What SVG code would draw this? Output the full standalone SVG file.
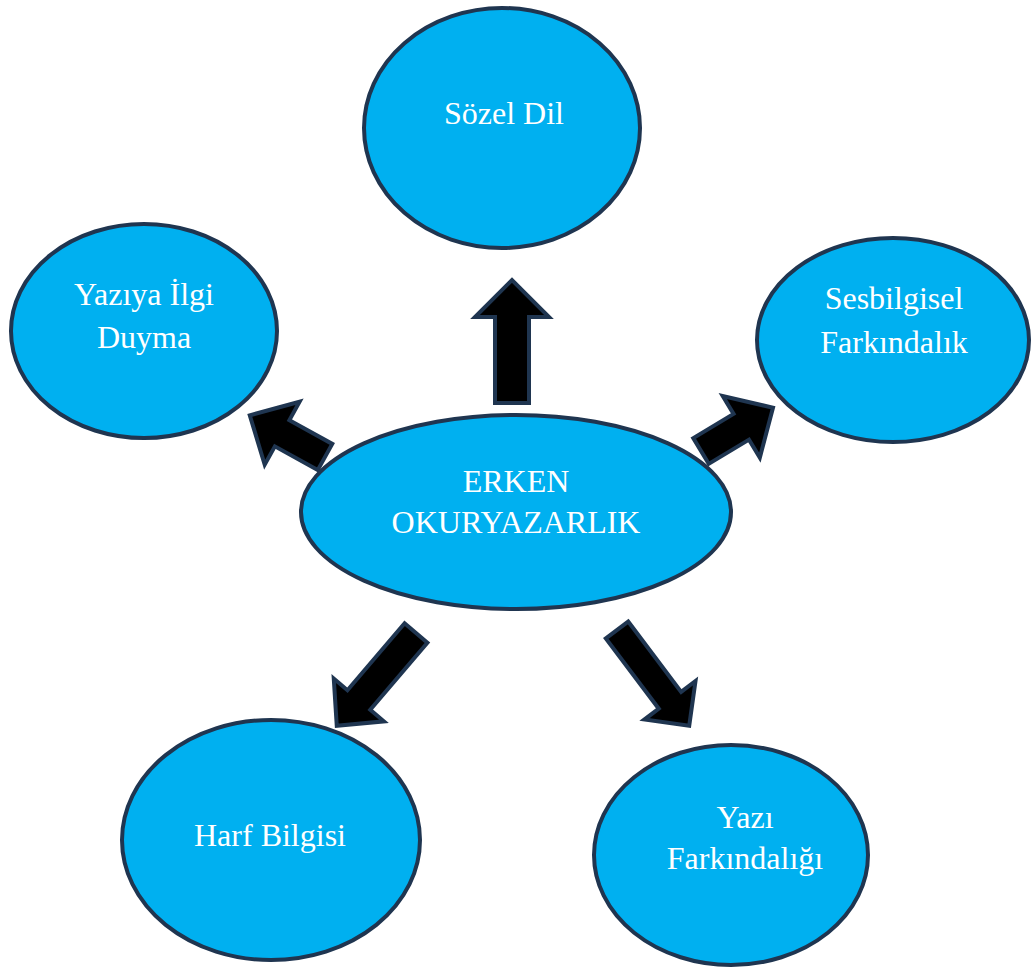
<svg xmlns="http://www.w3.org/2000/svg" width="1032" height="968" viewBox="0 0 1032 968">
<style>
.node{fill:#00b0f0;stroke:#1f3550;stroke-width:4}
.arrow{fill:#000;stroke:#1f3550;stroke-width:4;stroke-linejoin:miter}
.lbl{font-family:"Liberation Serif","Times New Roman",serif;font-size:32px;fill:#fff;text-anchor:middle}
</style>
<rect width="1032" height="968" fill="#fff"/>
<g id="connectors">
<polygon class="arrow" transform="translate(512,403) rotate(-90)" points="0,-17 86,-17 86,-37 123,0 86,37 86,17 0,17"/>
<polygon class="arrow" transform="translate(325,457) rotate(209)" points="0,-15 49,-15 49,-36 86,0 49,36 49,15 0,15"/>
<polygon class="arrow" transform="translate(701,451) rotate(-31)" points="0,-15 47,-15 47,-36 84,0 47,36 47,15 0,15"/>
<polygon class="arrow" transform="translate(416,633) rotate(130.5)" points="0,-15 88,-15 88,-33 122,0 88,33 88,15 0,15"/>
<polygon class="arrow" transform="translate(617,630) rotate(53)" points="0,-14 88,-14 88,-32 120,0 88,32 88,14 0,14"/>
</g>
<g id="center">
<ellipse class="node" cx="516" cy="512" rx="215" ry="97"/>
<text class="lbl" x="516" y="492">ERKEN</text>
<text class="lbl" x="516" y="533">OKURYAZARLIK</text>
</g>
<g id="sozel-dil">
<ellipse class="node" cx="502" cy="128" rx="138" ry="120"/>
<text class="lbl" x="504" y="124">Sözel Dil</text>
</g>
<g id="yaziya-ilgi">
<ellipse class="node" cx="144" cy="331" rx="133" ry="107"/>
<text class="lbl" x="144" y="305">Yazıya İlgi</text>
<text class="lbl" x="144" y="348">Duyma</text>
</g>
<g id="sesbilgisel">
<ellipse class="node" cx="893" cy="340" rx="136" ry="102"/>
<text class="lbl" x="894" y="309">Sesbilgisel</text>
<text class="lbl" x="894" y="353">Farkındalık</text>
</g>
<g id="harf-bilgisi">
<ellipse class="node" cx="271" cy="840" rx="149" ry="120"/>
<text class="lbl" x="270" y="846">Harf Bilgisi</text>
</g>
<g id="yazi-farkindaligi">
<ellipse class="node" cx="731" cy="855" rx="137" ry="110"/>
<text class="lbl" x="745" y="828">Yazı</text>
<text class="lbl" x="745" y="869">Farkındalığı</text>
</g>
</svg>
